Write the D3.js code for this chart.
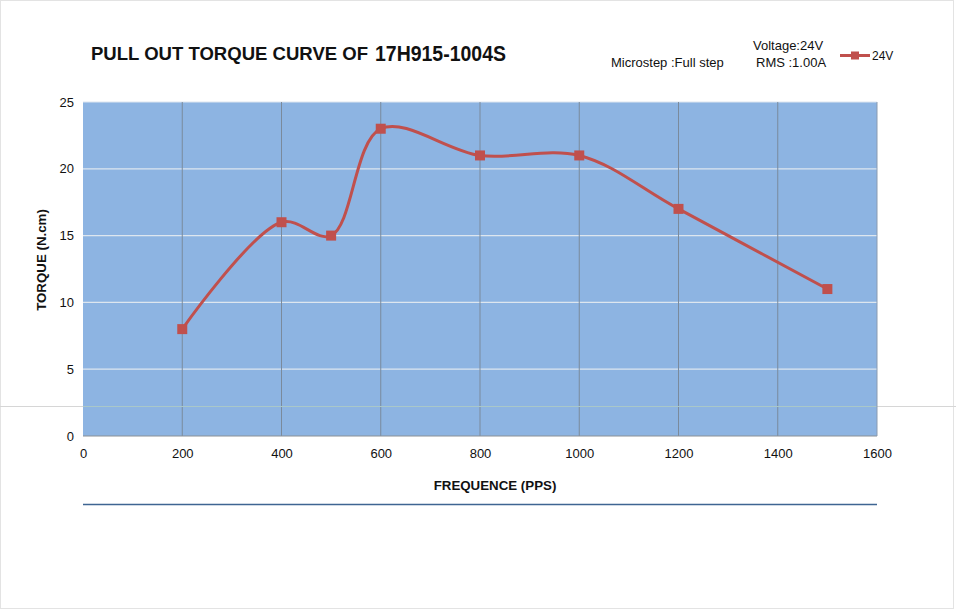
<!DOCTYPE html>
<html>
<head>
<meta charset="utf-8">
<script src="https://cdn.jsdelivr.net/npm/d3@7"></script>
<style>
html,body{margin:0;padding:0;background:#fff;}
svg{display:block;font-family:"Liberation Sans",Arial,sans-serif;}
</style>
</head>
<body>
<svg id="chart" width="956" height="611"></svg>
<script>
const frequency = [200, 400, 500, 600, 800, 1000, 1200, 1500];
const torque24V = [8, 16, 15, 23, 21, 21, 17, 11];
const xTicks = [0, 200, 400, 600, 800, 1000, 1200, 1400, 1600];
const yTicks = [0, 5, 10, 15, 20, 25];
const seriesName = "24V";
const titleMain = "PULL OUT TORQUE CURVE OF ";
const titleModel = "17H915-1004S";
const noteMicrostep = "Microstep :Full step";
const noteVoltage = "Voltage:24V";
const noteRms = "RMS :1.00A";
const xTitle = "FREQUENCE (PPS)";
const yTitle = "TORQUE (N.cm)";

const svg = d3.select("#chart");
const L = 83, R = 877, T = 102, B = 436;
const x = d3.scaleLinear().domain([0, 1600]).range([L, R]);
const y = d3.scaleLinear().domain([0, 25]).range([B, T]);

svg.append("rect").attr("x", 0.5).attr("y", 0.5).attr("width", 953).attr("height", 608)
  .attr("fill", "#fff").attr("stroke", "#e3e3e3");

svg.append("line").attr("x1", 0).attr("x2", 956).attr("y1", 406.5).attr("y2", 406.5)
  .attr("stroke", "#d6d6d6").attr("stroke-width", 1);

svg.append("rect").attr("x", L).attr("y", T).attr("width", R - L).attr("height", B - T)
  .attr("fill", "#8DB4E2");

svg.append("g").selectAll("line").data(yTicks.filter(d => d > 0)).join("line")
  .attr("x1", L).attr("x2", R).attr("y1", d => y(d)).attr("y2", d => y(d))
  .attr("stroke", "#dde6ef").attr("stroke-width", 1.2);

svg.append("g").selectAll("line").data(xTicks.filter(d => d > 0 && d < 1600)).join("line")
  .attr("x1", d => x(d)).attr("x2", d => x(d)).attr("y1", T).attr("y2", B)
  .attr("stroke", "#7a8a9c").attr("stroke-width", 1);

svg.append("line").attr("x1", L).attr("x2", R).attr("y1", 406.5).attr("y2", 406.5)
  .attr("stroke", "#a9c7c9").attr("stroke-width", 1);

svg.append("line").attr("x1", L).attr("x2", R).attr("y1", B).attr("y2", B)
  .attr("stroke", "#8a8f96").attr("stroke-width", 1.2);
svg.append("line").attr("x1", R).attr("x2", R).attr("y1", T).attr("y2", B)
  .attr("stroke", "#8a9bb0").attr("stroke-width", 1);

const xAxis = svg.append("g").attr("transform", `translate(0,${B})`)
  .call(d3.axisBottom(x).tickValues(xTicks).tickSize(0).tickPadding(13).tickFormat(d3.format("d")));
xAxis.select(".domain").remove();
xAxis.selectAll("text").attr("font-size", 13).attr("fill", "#111")
  .attr("font-family", "Liberation Sans, Arial, sans-serif");

const yAxis = svg.append("g").attr("transform", `translate(${L},0)`)
  .call(d3.axisLeft(y).tickValues(yTicks).tickSize(0).tickPadding(9).tickFormat(d3.format("d")));
yAxis.select(".domain").remove();
yAxis.selectAll("text").attr("font-size", 13).attr("fill", "#111")
  .attr("font-family", "Liberation Sans, Arial, sans-serif");

svg.append("text").attr("x", 495).attr("y", 490).attr("text-anchor", "middle")
  .attr("font-size", 13.3).attr("font-weight", "bold").attr("fill", "#111").text(xTitle);
svg.append("text").attr("transform", "translate(46,260) rotate(-90)").attr("text-anchor", "middle")
  .attr("font-size", 13.3).attr("font-weight", "bold").attr("fill", "#111").text(yTitle);

const pts = frequency.map((f, i) => [f, torque24V[i]]);
const line = d3.line().x(d => x(d[0])).y(d => y(d[1])).curve(d3.curveCatmullRom.alpha(0.5));
svg.append("path").datum(pts).attr("d", line).attr("fill", "none")
  .attr("stroke", "#C0504D").attr("stroke-width", 3).attr("stroke-linejoin", "round");

svg.append("g").selectAll("rect").data(pts).join("rect")
  .attr("x", d => x(d[0]) - 5).attr("y", d => y(d[1]) - 5)
  .attr("width", 10).attr("height", 10).attr("fill", "#C0504D");

svg.append("line").attr("x1", L).attr("x2", R).attr("y1", 504.5).attr("y2", 504.5)
  .attr("stroke", "#3f6592").attr("stroke-width", 1.5);

svg.append("text").attr("x", 91).attr("y", 60).attr("font-size", 18.5).attr("font-weight", "bold")
  .attr("fill", "#111").attr("textLength", 277).attr("lengthAdjust", "spacingAndGlyphs").text(titleMain.trim());
svg.append("text").attr("x", 375).attr("y", 60.5).attr("font-size", 21.5).attr("font-weight", "bold")
  .attr("fill", "#111").attr("textLength", 131).attr("lengthAdjust", "spacingAndGlyphs").text(titleModel);

svg.append("text").attr("x", 611).attr("y", 67).attr("font-size", 13).attr("fill", "#111").text(noteMicrostep);
svg.append("text").attr("x", 753).attr("y", 50).attr("font-size", 13).attr("fill", "#111").text(noteVoltage);
svg.append("text").attr("x", 756).attr("y", 67).attr("font-size", 13).attr("fill", "#111").text(noteRms);

svg.append("line").attr("x1", 840).attr("x2", 870).attr("y1", 55.5).attr("y2", 55.5)
  .attr("stroke", "#C0504D").attr("stroke-width", 3);
svg.append("rect").attr("x", 851).attr("y", 51.5).attr("width", 8).attr("height", 8).attr("fill", "#C0504D");
svg.append("text").attr("x", 872).attr("y", 60).attr("font-size", 12).attr("fill", "#111").text(seriesName);
</script>
</body>
</html>
